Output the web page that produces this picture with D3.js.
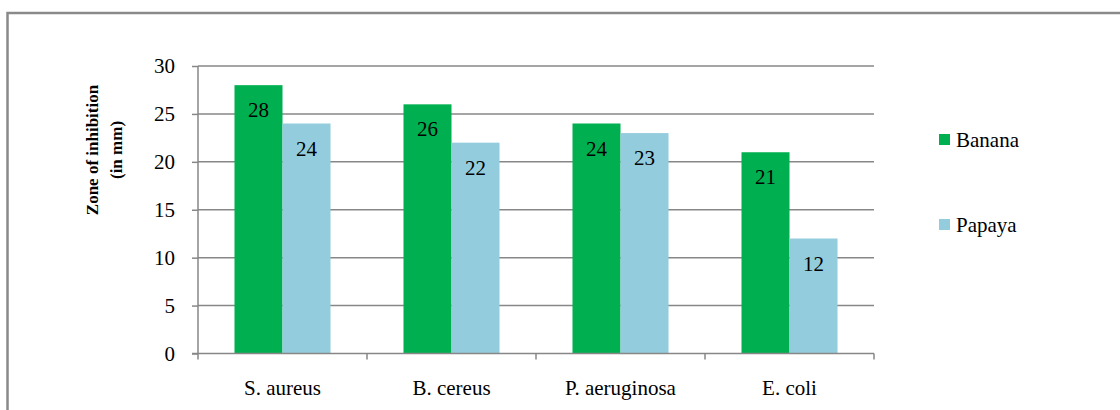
<!DOCTYPE html>
<html>
<head>
<meta charset="utf-8">
<script src="https://cdn.jsdelivr.net/npm/d3@7"></script>
<style>
  body { margin: 0; background: #fff; }
  svg text { font-family: "Liberation Serif", "Times New Roman", serif; fill: #000; }
</style>
</head>
<body>
<svg id="chart" width="1120" height="410"></svg>
<script>
// Chart data.
const categories = ['S. aureus', 'B. cereus', 'P. aeruginosa', 'E. coli'];
const seriesNames = ['Banana', 'Papaya'];
const banana = [28, 26, 24, 21];
const papaya = [24, 22, 23, 12];
const yTicks = [0, 5, 10, 15, 20, 25, 30];

const colors = ['#00B050', '#93CDDD'];
const gridColor = '#878787';
const fontSize = '21px';

let svg = d3.select('#chart');

// Outer frame (runs off the right and bottom edge).
svg.append('rect')
    .attr('x', 7.5).attr('y', 13)
    .attr('width', 1130).attr('height', 420)
    .attr('fill', 'none')
    .attr('stroke', '#8a8a8a')
    .attr('stroke-width', 2.5);

// Plot area.
const plotLeft = 198, plotRight = 874, plotTop = 66, plotBottom = 353.5;

let x = d3.scaleBand().domain(categories).range([plotLeft, plotRight]);
let inner = d3.scaleBand().domain(seriesNames)
    .range([0, x.bandwidth()]).paddingOuter(0.76).paddingInner(0);
let y = d3.scaleLinear().domain([0, 30]).range([plotBottom, plotTop]);

// Gridlines and y ticks.
let yAxis = svg.append('g').attr('transform', `translate(${plotLeft},0)`)
    .call(d3.axisLeft(y).tickValues(yTicks).tickSize(6).tickPadding(17));
yAxis.attr('font-family', null).attr('font-size', null);
yAxis.select('.domain').remove();
yAxis.selectAll('.tick line').attr('stroke', gridColor).attr('stroke-width', 1.5);
yAxis.selectAll('.tick text')
    .style('font-size', fontSize).attr('fill', '#000');

svg.append('g').selectAll('line')
    .data(yTicks.filter(d => d > 0))
    .enter().append('line')
    .attr('x1', plotLeft).attr('x2', plotRight)
    .attr('y1', d => y(d)).attr('y2', d => y(d))
    .attr('stroke', gridColor).attr('stroke-width', 1.5);

// Bars.
let rows = categories.map((c, i) => ({ cat: c, values: [banana[i], papaya[i]] }));
let groups = svg.append('g').selectAll('g')
    .data(rows).enter().append('g')
    .attr('transform', d => `translate(${x(d.cat)},0)`);

groups.selectAll('rect')
    .data(d => d.values.map((v, j) => ({ name: seriesNames[j], v: v, j: j })))
    .enter().append('rect')
    .attr('x', d => inner(d.name))
    .attr('width', inner.bandwidth())
    .attr('y', d => y(d.v))
    .attr('height', d => y(0) - y(d.v))
    .attr('fill', d => colors[d.j]);

groups.selectAll('text')
    .data(d => d.values.map((v, j) => ({ name: seriesNames[j], v: v })))
    .enter().append('text')
    .attr('x', d => inner(d.name) + inner.bandwidth() / 2)
    .attr('y', d => y(d.v) + 32)
    .attr('text-anchor', 'middle')
    .style('font-size', fontSize)
    .text(d => d.v);

// X axis.
let xAxis = svg.append('g');
xAxis.append('line')
    .attr('x1', plotLeft - 6).attr('x2', plotRight)
    .attr('y1', plotBottom).attr('y2', plotBottom)
    .attr('stroke', gridColor).attr('stroke-width', 1.5);
xAxis.append('line')
    .attr('x1', plotLeft).attr('x2', plotLeft)
    .attr('y1', plotTop).attr('y2', plotBottom)
    .attr('stroke', gridColor).attr('stroke-width', 1.5);
let bounds = categories.map(c => x(c)).concat([plotRight]);
xAxis.selectAll('.xt').data(bounds).enter().append('line')
    .attr('x1', d => d).attr('x2', d => d)
    .attr('y1', plotBottom).attr('y2', plotBottom + 6)
    .attr('stroke', gridColor).attr('stroke-width', 1.5);
xAxis.selectAll('.xl').data(categories).enter().append('text')
    .attr('x', d => x(d) + x.bandwidth() / 2)
    .attr('y', 395)
    .attr('text-anchor', 'middle')
    .style('font-size', fontSize)
    .text(d => d);

// Y axis title.
let title = svg.append('text')
    .attr('transform', 'translate(98,150) rotate(-90)')
    .attr('text-anchor', 'middle')
    .style('font-size', '17px')
    .style('font-weight', 'bold');
title.append('tspan').attr('x', 0).attr('y', 0).text('Zone of inhibition');
title.append('tspan').attr('x', 0).attr('y', 24).text('(in mm)');

// Legend.
let legend = svg.append('g').selectAll('g')
    .data(seriesNames).enter().append('g')
    .attr('transform', (d, i) => `translate(939,${134 + i * 85})`);
legend.append('rect')
    .attr('width', 11).attr('height', 11)
    .attr('fill', (d, i) => colors[i]);
legend.append('text')
    .attr('x', 17).attr('y', 13)
    .style('font-size', fontSize)
    .text(d => d);
</script>
</body>
</html>
